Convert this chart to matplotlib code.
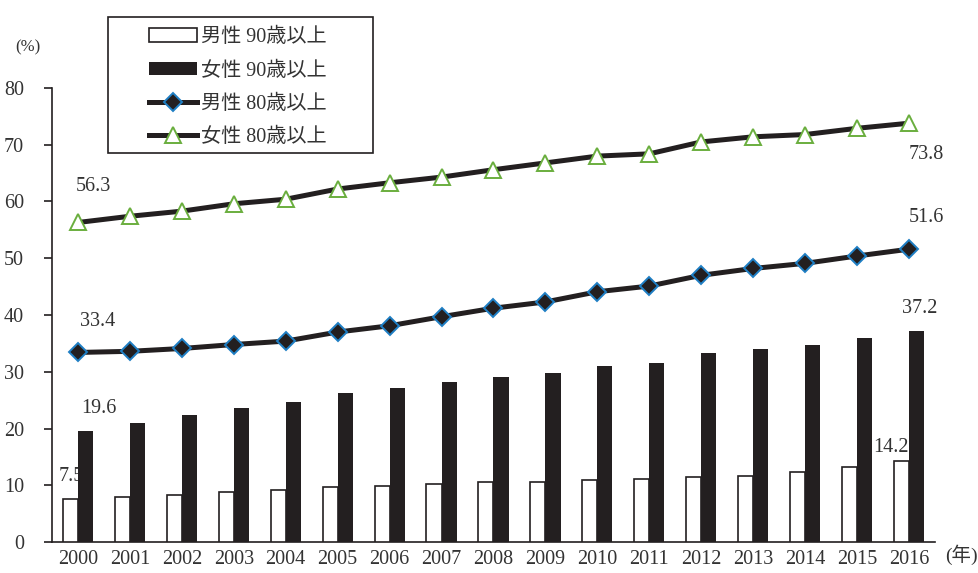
import numpy as np
import matplotlib
matplotlib.use("Agg")
import matplotlib.pyplot as plt
from matplotlib.patches import Rectangle

plt.rcParams['font.family'] = ['Liberation Serif', 'Noto Sans CJK JP', 'DejaVu Sans']
plt.rcParams['axes.unicode_minus'] = False

years = [str(y) for y in range(2000, 2017)]
male90 = [7.5, 7.9, 8.2, 8.8, 9.2, 9.7, 9.9, 10.2, 10.5, 10.5, 11.0, 11.1, 11.5, 11.7, 12.3, 13.2, 14.2]
female90 = [19.6, 21.0, 22.4, 23.6, 24.7, 26.3, 27.1, 28.2, 29.1, 29.8, 31.0, 31.5, 33.3, 34.0, 34.7, 35.9, 37.2]
male80 = [33.4, 33.6, 34.1, 34.8, 35.4, 37.0, 38.1, 39.7, 41.2, 42.3, 44.1, 45.1, 47.0, 48.2, 49.1, 50.4, 51.6]
female80 = [56.3, 57.4, 58.3, 59.6, 60.4, 62.2, 63.3, 64.3, 65.6, 66.8, 68.0, 68.4, 70.5, 71.4, 71.8, 72.9, 73.8]
labels = ['男性 90歳以上', '女性 90歳以上', '男性 80歳以上', '女性 80歳以上']

dark = '#231f20'
txt = '#333333'

fig = plt.figure(figsize=(9.79, 5.73), dpi=100)
ax = fig.add_axes([52/979, 31/573, 883/979, 454/573])

x = np.arange(len(years))
w = 0.29
b1 = ax.bar(x - 0.145, male90, w, color='white', edgecolor=dark, linewidth=1.2, label=labels[0], zorder=3)
b2 = ax.bar(x + 0.145, female90, w, color=dark, edgecolor=dark, linewidth=0, label=labels[1], zorder=3)
l1, = ax.plot(x, male80, color=dark, lw=3.6, marker='D', ms=9, mfc=dark, mec='#1f7fc4', mew=1.4,
              label=labels[2], zorder=4)
l2, = ax.plot(x, female80, color=dark, lw=3.6, marker='^', ms=12, mfc='white', mec='#6aae3e', mew=1.4,
              label=labels[3], zorder=4)

ax.set_xlim(-0.5, 16.5)
ax.set_ylim(0, 80)
ax.set_yticks(range(0, 81, 10))
ax.set_xticks(x)
ax.set_xticklabels(years)
ax.tick_params(axis='x', length=0, pad=6, labelsize=14.5, colors=txt)
ax.tick_params(axis='y', length=6, width=1.2, pad=14, labelsize=14.5, colors=txt)
ax.tick_params(axis='y', color=dark)
for s in ['top', 'right']:
    ax.spines[s].set_visible(False)
for s in ['left', 'bottom']:
    ax.spines[s].set_linewidth(1.2)
    ax.spines[s].set_color(dark)

# data labels (first / last values)
fs = 14.5
ax.text(0.3, 62.6, '56.3', fontsize=fs, ha='center', va='center', color=txt)
ax.text(0.37, 38.9, '33.4', fontsize=fs, ha='center', va='center', color=txt)
ax.text(0.4, 23.6, '19.6', fontsize=fs, ha='center', va='center', color=txt, zorder=5)
ax.text(-0.13, 11.5, '7.5', fontsize=fs, ha='center', va='center', color=txt, zorder=2)
ax.text(16.34, 68.2, '73.8', fontsize=fs, ha='center', va='center', color=txt)
ax.text(16.34, 57.1, '51.6', fontsize=fs, ha='center', va='center', color=txt)
ax.text(16.2, 41.2, '37.2', fontsize=fs, ha='center', va='center', color=txt)
ax.text(15.65, 16.7, '14.2', fontsize=fs, ha='center', va='center', color=txt, zorder=2)

fig.text(28/979, 1 - 47/573, '(%)', fontsize=12, ha='center', va='center', color=txt)
fig.text(961/979, 1 - 555/573, '(年)', fontsize=14, ha='center', va='center', color=txt)

# legend box drawn separately to get the wide padding of the original
fig.patches.append(Rectangle((108/979, 1 - 153/573), 265/979, 136/573, transform=fig.transFigure,
                             fill=False, edgecolor=dark, linewidth=1.2))
leg = fig.legend(handles=[b1, b2, l1, l2], labels=labels, loc='upper left',
                 bbox_to_anchor=(149/979, 1 - 28/573), bbox_transform=fig.transFigure,
                 borderaxespad=0, borderpad=0, fontsize=14.5, frameon=False,
                 handlelength=2.4, handleheight=0.68, labelspacing=0.7,
                 handletextpad=0.2)
for t in leg.get_texts():
    t.set_color(txt)

fig.savefig('out.png', dpi=100)
